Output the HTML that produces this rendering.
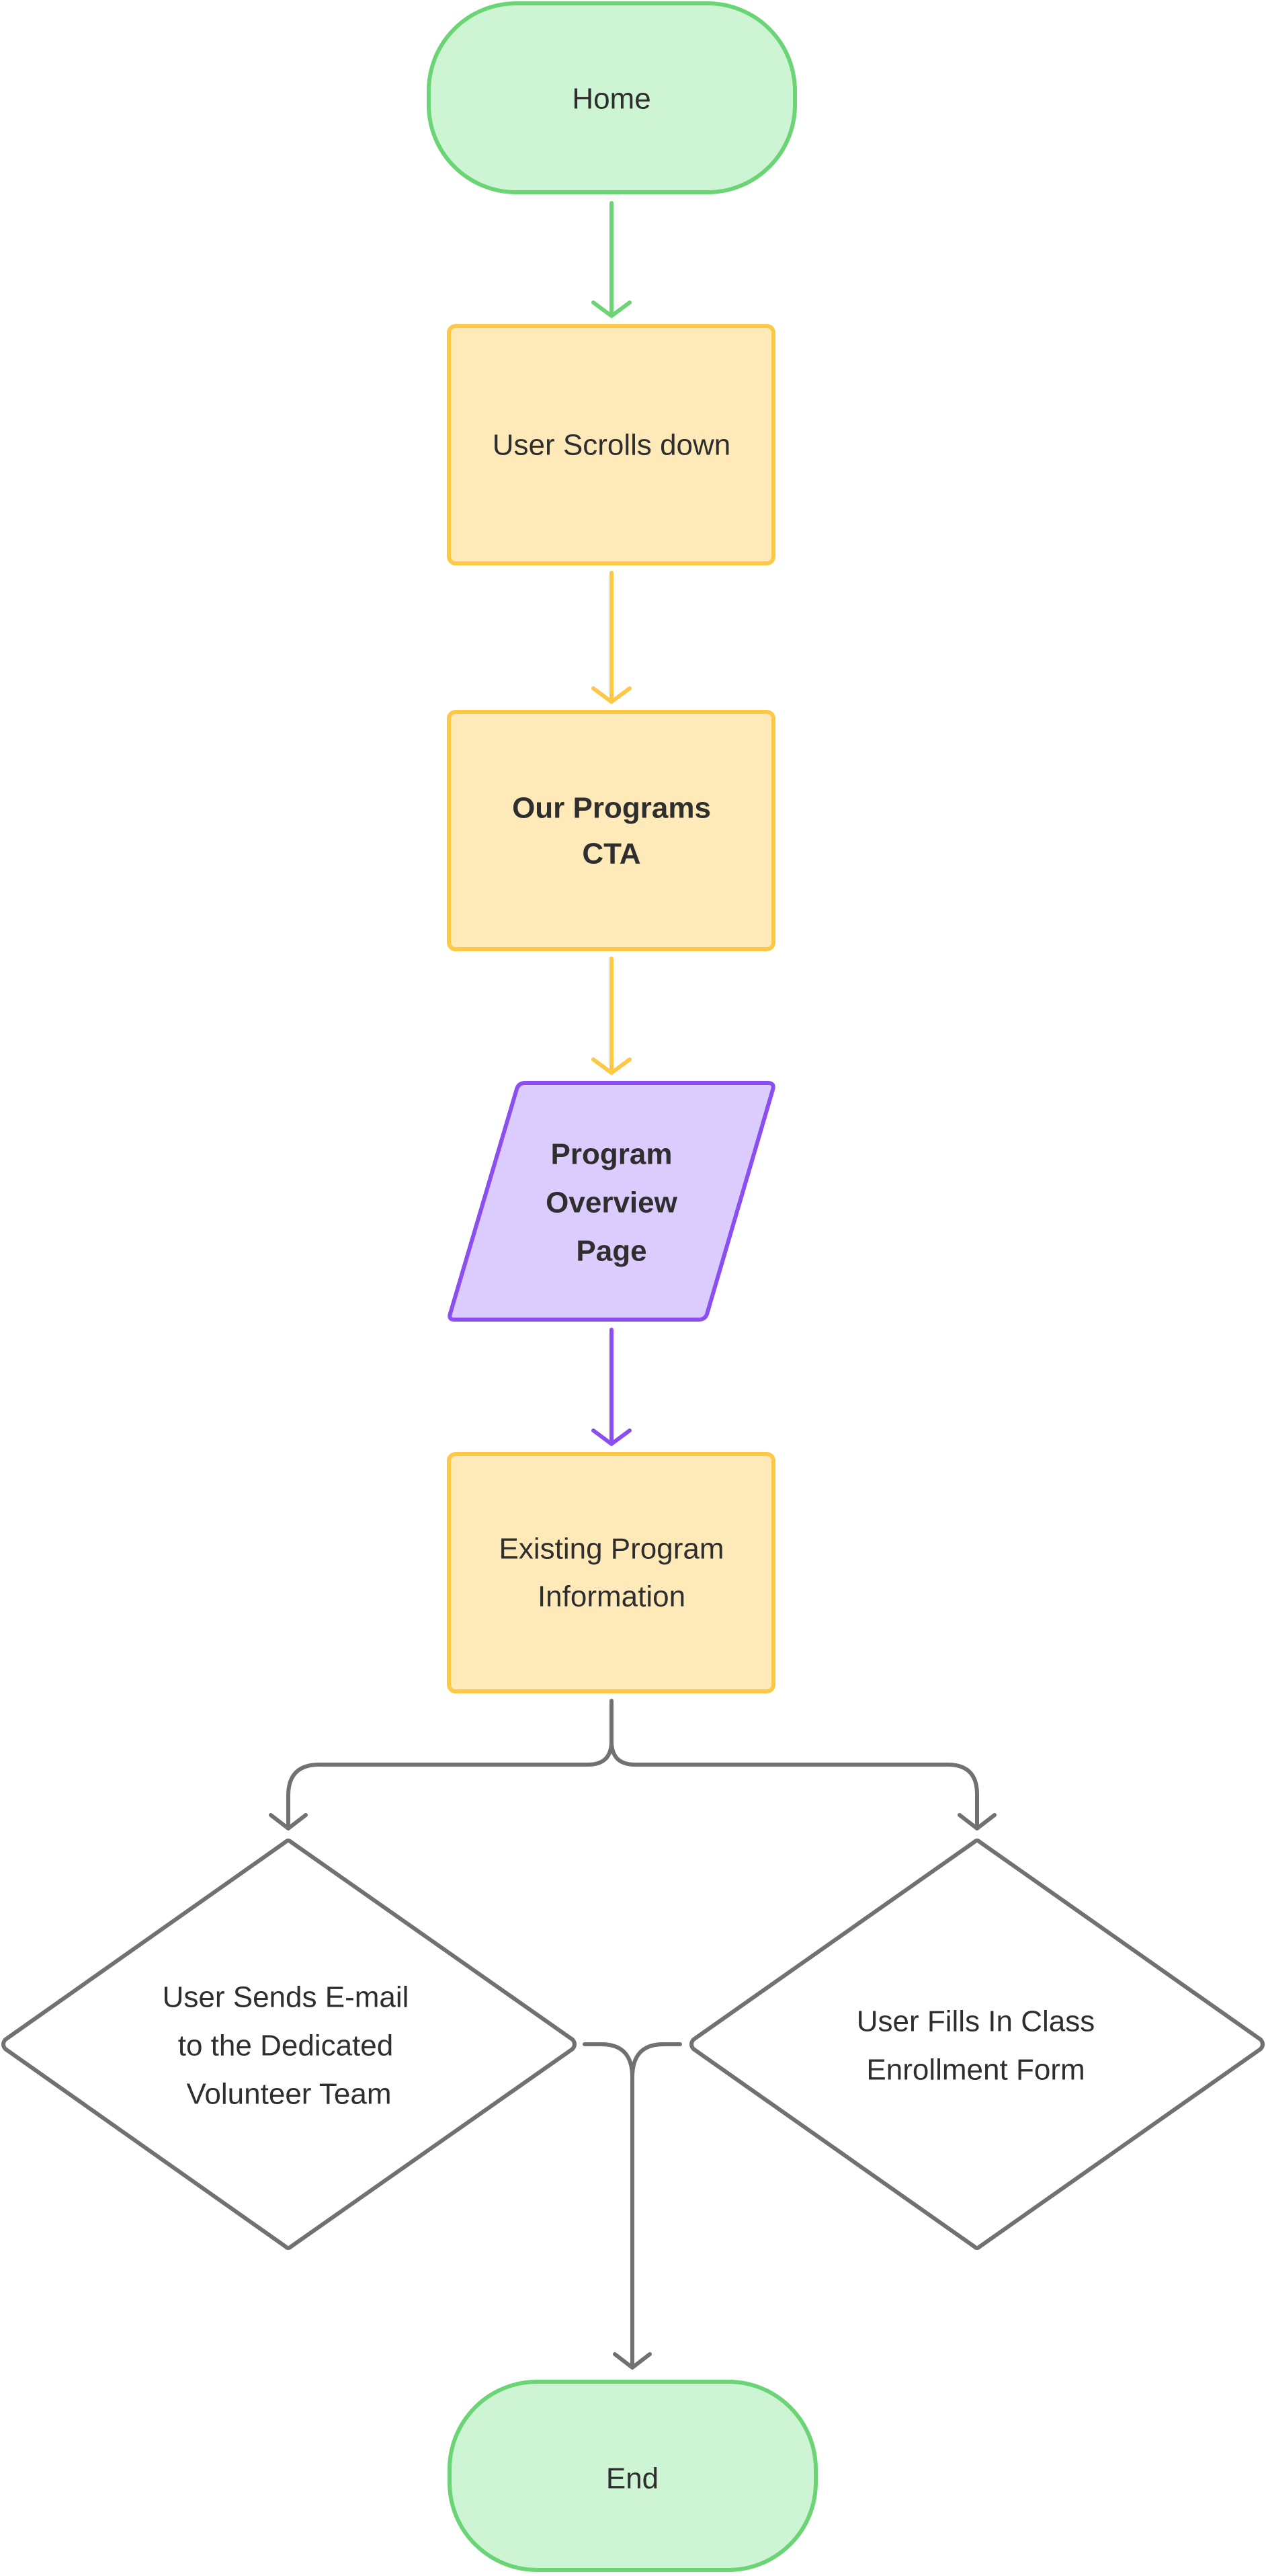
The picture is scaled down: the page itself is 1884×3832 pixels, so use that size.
<!DOCTYPE html>
<html><head><meta charset="utf-8"><style>
html,body{margin:0;padding:0;background:#fff}
svg{display:block}
text{font-family:"Liberation Sans",sans-serif;font-size:44px;fill:#2e2e2e;text-anchor:middle;dominant-baseline:central}
.b{font-weight:bold}
</style></head><body>
<svg width="1884" height="3832" viewBox="0 0 1884 3832" xmlns="http://www.w3.org/2000/svg">
<g stroke-width="6" stroke-linecap="round" stroke-linejoin="round">
<!-- Home -->
<rect x="638" y="5" width="545" height="281" rx="130" fill="#cdf4d3" stroke="#6bd475"/>
<path d="M910 302 V470 M883 450 L910 470 L937 450" fill="none" stroke="#6bd475"/>
<!-- box1 -->
<rect x="668" y="485" width="483" height="353" rx="10" fill="#feeab9" stroke="#fdc845"/>
<path d="M910 852 V1044 M883 1024 L910 1044 L937 1024" fill="none" stroke="#fdc845"/>
<!-- box2 -->
<rect x="668" y="1059" width="483" height="353" rx="10" fill="#feeab9" stroke="#fdc845"/>
<path d="M910 1426 V1596 M883 1576 L910 1596 L937 1576" fill="none" stroke="#fdc845"/>
<!-- parallelogram -->
<path d="M781 1611 L1143 1611 Q1153 1611 1150 1621 L1052 1955 Q1049 1963 1040 1963 L676 1963 Q667 1963 670 1954 L769 1620 Q772 1611 781 1611 Z" fill="#dccbfd" stroke="#8b4ef0"/>
<path d="M910 1978 V2148 M883 2128 L910 2148 L937 2128" fill="none" stroke="#8b4ef0"/>
<!-- box3 -->
<rect x="668" y="2163" width="483" height="353" rx="10" fill="#feeab9" stroke="#fdc845"/>
<!-- branches -->
<g fill="none" stroke="#717171">
<path d="M910 2530 V2590 Q910 2625 875 2625 H475 Q429 2625 429 2671 V2720 M403 2700 L429 2720 L455 2700"/>
<path d="M910 2590 Q910 2625 945 2625 H1410 Q1454 2625 1454 2669 V2720 M1428 2700 L1454 2720 L1480 2700"/>
<path d="M433 2740 L852 3034 Q858 3041 852 3048 L433 3342 Q429 3346 425 3342 L8 3048 Q2 3041 8 3034 L425 2740 Q429 2736 433 2740 Z" fill="#fff"/>
<path d="M1458 2740 L1876 3034 Q1882 3041 1876 3048 L1458 3342 Q1454 3346 1450 3342 L1032 3048 Q1026 3041 1032 3034 L1450 2740 Q1454 2736 1458 2740 Z" fill="#fff"/>
<path d="M870 3041 H895 Q941 3041 941 3090 V3522 M915 3502 L941 3522 L967 3502"/>
<path d="M1012 3041 H987 Q941 3041 941 3090"/>
</g>
<!-- End -->
<rect x="669" y="3543" width="545" height="280" rx="130" fill="#cdf4d3" stroke="#6bd475"/>
</g>
<text x="910" y="147">Home</text>
<text x="910" y="662">User Scrolls down</text>
<text class="b" x="910" y="1202">Our Programs</text>
<text class="b" x="910" y="1270">CTA</text>
<text class="b" x="910" y="1717">Program</text>
<text class="b" x="910" y="1789">Overview</text>
<text class="b" x="910" y="1861">Page</text>
<text x="910" y="2304">Existing Program</text>
<text x="910" y="2375">Information</text>
<text x="425" y="2971">User Sends E-mail</text>
<text x="425" y="3043">to the Dedicated</text>
<text x="430" y="3115">Volunteer Team</text>
<text x="1452" y="3007">User Fills In Class</text>
<text x="1452" y="3079">Enrollment Form</text>
<text x="941" y="3687">End</text>
</svg>
</body></html>
